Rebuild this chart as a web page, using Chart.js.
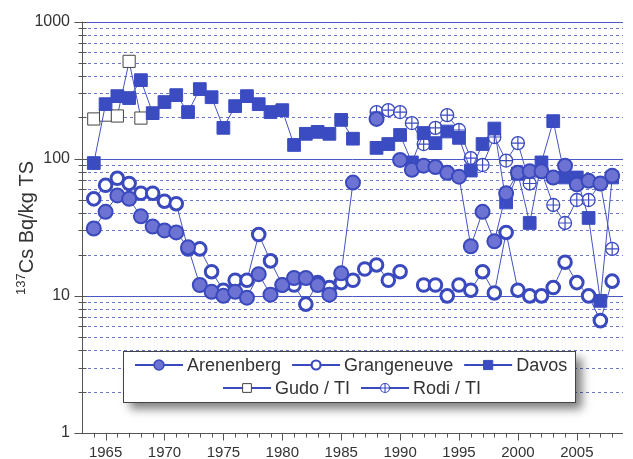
<!DOCTYPE html>
<html>
<head>
<meta charset="utf-8">
<title>137Cs Bq/kg TS</title>
<script src="https://cdn.jsdelivr.net/npm/chart.js@4.4.1/dist/chart.umd.min.js"></script>
<style>
  html, body { margin: 0; padding: 0; background: #fff; }
  #wrap { position: relative; width: 633px; height: 459px; }
</style>
</head>
<body>
<div id="wrap"><canvas id="csChart"></canvas></div>
<script>
// ---- data (Bq/kg TS) ----
const years = [1964, 1965, 1966, 1967, 1968, 1969, 1970, 1971, 1972, 1973,
               1974, 1975, 1976, 1977, 1978, 1979, 1980, 1981, 1982, 1983,
               1984, 1985, 1986, 1987, 1988, 1989, 1990, 1991, 1992, 1993,
               1994, 1995, 1996, 1997, 1998, 1999, 2000, 2001, 2002, 2003,
               2004, 2005, 2006, 2007, 2008];

const arenenberg = [31, 41, 54, 51, 38, 32, 30, 29, 22.6, 12,
                    10.7, 10, 10.7, 9.7, 14.4, 10.2, 12, 13.5, 13.5, 12,
                    10.2, 14.6, 67, null, 195, null, 98, 83, 89, 87,
                    79, 74, 23, 41, 25, 56, 79, 81, 81, 73,
                    89, 65, 69, 66, 75];

const grangeneuve = [51, 64, 72, 66, 56, 56, 49, 47, 22, 22,
                     15, 11, 13, 13, 28, 18, 12, 12, 8.7, 12.5,
                     11.5, 12.5, 13, 15.7, 16.8, 13, 15, null, 12, 12,
                     10, 12, 11, 15, 10.5, 29, 11, 10, 10, 11.5,
                     17.6, 12.5, 10, 6.6, 12.8];

const davos = [93, 250, 286, 277, 374, 215, 259, 291, 219, 322,
               281, 168, 242, 286, 250, 219, 226, 126, 152, 157,
               152, 192, 140, null, 120, 128, 149, 94, 154, 130,
               158, 142, 82, 128, 166, 48, 78, 34, 94, 188,
               73, 73, 37, 9.2, 73];

const gudoYears = [1964, 1965, 1966, 1967, 1968];
const gudo = [195, 208, 205, 513, 198];

const rodiYears = [1988, 1989, 1990, 1991, 1992, 1993, 1994, 1995, 1996, 1997,
                   1998, 1999, 2000, 2001, 2002, 2003, 2004, 2005, 2006, 2007, 2008];
const rodi = [219, 226, 219, 182, 128, 168, 208, 162, 101, 90,
              144, 97, 130, 66, 80, 46, 34, 50, 50, 66, 22];

const xTicks = [1965, 1970, 1975, 1980, 1985, 1990, 1995, 2000, 2005];
const yTicks = [1, 10, 100, 1000];

// ---- styling ----
const BLUE = '#3a49bd';
const LINE = '#4453c0';
const FILL = '#6c73d3';
const SQUARE = '#3b4cc2';
const TEXT = '#333';
const FONT = "'Liberation Sans', Arial, sans-serif";

const pairs = (xs, ys) => xs.map((x, i) => ({ x: x, y: ys[i] }));

const series = [
  { label: 'Arenenberg', data: pairs(years, arenenberg), order: 0,
    pointStyle: 'circle', pointRadius: 7, pointBackgroundColor: FILL,
    pointBorderColor: BLUE, pointBorderWidth: 2 },
  { label: 'Grangeneuve', data: pairs(years, grangeneuve), order: 1,
    pointStyle: 'circle', pointRadius: 6.3, pointBackgroundColor: '#fff',
    pointBorderColor: BLUE, pointBorderWidth: 3 },
  { label: 'Davos', data: pairs(years, davos), order: 2,
    pointStyle: 'rect', pointRadius: 9, pointBackgroundColor: SQUARE,
    pointBorderColor: SQUARE, pointBorderWidth: 1 },
  { label: 'Gudo / TI', data: pairs(gudoYears, gudo), order: 4,
    pointStyle: 'rect', pointRadius: 8.6, pointBackgroundColor: '#fff',
    pointBorderColor: '#444', pointBorderWidth: 1 },
  { label: 'Rodi / TI', data: pairs(rodiYears, rodi), order: 3,
    pointStyle: 'circle', pointRadius: 6.5, pointBackgroundColor: '#fff',
    pointBorderColor: BLUE, pointBorderWidth: 1.3 }
];

series.forEach(s => {
  s.borderColor = LINE;
  s.borderWidth = 1;
  s.spanGaps = false;
  s.fill = false;
  s.tension = 0;
});

function drawCross(ctx, x, y, r) {
  ctx.beginPath();
  ctx.moveTo(x - r, y); ctx.lineTo(x + r, y);
  ctx.moveTo(x, y - r); ctx.lineTo(x, y + r);
  ctx.stroke();
}

// log grid, axis lines, tick marks, axis title and legend box
const axesPlugin = {
  id: 'axesPlugin',
  beforeDatasetsDraw(chart) {
    const { ctx, chartArea: a, scales: { x, y } } = chart;
    ctx.save();
    ctx.lineWidth = 1;

    // dashed minor lines
    ctx.strokeStyle = '#6d79c9';
    ctx.setLineDash([3, 3]);
    for (let d = 1; d <= 100; d *= 10) {
      for (let m = 2; m <= 9; m++) {
        const py = Math.round(y.getPixelForValue(m * d)) + 0.5;
        ctx.beginPath();
        ctx.moveTo(a.left, py);
        ctx.lineTo(a.right, py);
        ctx.stroke();
      }
    }
    // solid decade lines
    ctx.setLineDash([]);
    ctx.strokeStyle = '#4a59c3';
    [10, 100, 1000].forEach(v => {
      const py = Math.round(y.getPixelForValue(v)) + 0.5;
      ctx.beginPath();
      ctx.moveTo(a.left, py);
      ctx.lineTo(a.right, py);
      ctx.stroke();
    });

    // axes
    ctx.strokeStyle = '#555';
    const ax = Math.round(a.left) + 0.5;
    const ay = Math.round(a.bottom) + 0.5;
    ctx.beginPath();
    ctx.moveTo(ax, a.top);
    ctx.lineTo(ax, ay);
    ctx.moveTo(a.left - 2, ay);
    ctx.lineTo(a.right, ay);
    ctx.stroke();

    // y ticks (cross the axis)
    ctx.beginPath();
    for (let d = 1; d <= 1000; d *= 10) {
      for (let m = 1; m <= 9; m++) {
        const v = m * d;
        if (v > 1000) break;
        const py = Math.round(y.getPixelForValue(v)) + 0.5;
        const major = m === 1;
        ctx.moveTo(ax - (major ? 8 : 4), py);
        ctx.lineTo(ax + 4, py);
      }
    }
    // x ticks every year, longer every 5
    for (let yr = 1964; yr <= 2008; yr++) {
      const px = Math.round(x.getPixelForValue(yr)) + 0.5;
      ctx.moveTo(px, ay);
      ctx.lineTo(px, ay + (yr % 5 === 0 ? 7 : 4));
    }
    ctx.stroke();
    ctx.restore();
  },

  // crosses inside the Rodi circles
  afterDatasetDraw(chart, args) {
    if (chart.data.datasets[args.index].label !== 'Rodi / TI') return;
    const ctx = chart.ctx;
    ctx.save();
    ctx.strokeStyle = BLUE;
    ctx.lineWidth = 1.2;
    args.meta.data.forEach(pt => {
      if (!pt.skip) drawCross(ctx, pt.x, pt.y, 6.5);
    });
    ctx.restore();
  },

  afterDatasetsDraw(chart) {
    const { ctx } = chart;
    ctx.save();

    // y axis title with superscript
    ctx.fillStyle = TEXT;
    ctx.translate(20, 228);
    ctx.rotate(-Math.PI / 2);
    ctx.textBaseline = 'alphabetic';
    ctx.font = '13px ' + FONT;
    const w1 = ctx.measureText('137').width;
    ctx.font = '20px ' + FONT;
    const w2 = ctx.measureText('Cs Bq/kg TS').width;
    const sx = -(w1 + w2) / 2;
    ctx.font = '13px ' + FONT;
    ctx.fillText('137', sx, 5);
    ctx.font = '20px ' + FONT;
    ctx.fillText('Cs Bq/kg TS', sx + w1, 13);
    ctx.restore();

    // legend box
    const bx = 123, by = 351, bw = 452, bh = 51;
    ctx.save();
    ctx.shadowColor = 'rgba(0,0,0,0.5)';
    ctx.shadowBlur = 9;
    ctx.shadowOffsetX = 7;
    ctx.shadowOffsetY = 7;
    ctx.fillStyle = '#fff';
    ctx.fillRect(bx, by, bw, bh);
    ctx.restore();
    ctx.save();
    ctx.strokeStyle = '#444';
    ctx.lineWidth = 1;
    ctx.strokeRect(bx + 0.5, by + 0.5, bw, bh);

    ctx.font = '18px ' + FONT;
    ctx.textBaseline = 'middle';
    const rows = [
      { x: 135, y: 365, items: [0, 1, 2] },
      { x: 223, y: 388, items: [3, 4] }
    ];
    const legR = [5, 4.5, 6.5, 6.2, 4.5];
    const legB = [1.5, 2.2, 1, 1, 1.1];
    rows.forEach(row => {
      let cx = row.x;
      row.items.forEach(i => {
        const s = series[i];
        ctx.strokeStyle = BLUE;
        ctx.lineWidth = 2;
        ctx.beginPath();
        ctx.moveTo(cx, row.y);
        ctx.lineTo(cx + 48, row.y);
        ctx.stroke();
        const mx = cx + 24;
        ctx.fillStyle = s.pointBackgroundColor;
        ctx.strokeStyle = s.pointBorderColor;
        ctx.lineWidth = legB[i];
        Chart.helpers.drawPoint(ctx, { pointStyle: s.pointStyle, radius: legR[i], rotation: 0, borderWidth: legB[i] }, mx, row.y);
        if (i === 4) drawCross(ctx, mx, row.y, legR[i]);
        ctx.fillStyle = TEXT;
        ctx.fillText(s.label, cx + 52, row.y + 1);
        cx += 52 + ctx.measureText(s.label).width + 11;
      });
    });
    ctx.restore();
  }
};

new Chart(document.getElementById('csChart'), {
  type: 'line',
  data: { datasets: series },
  options: {
    responsive: true,
    maintainAspectRatio: false,
    animation: false,
    events: [],
    layout: { padding: { top: 20, right: 0, bottom: 0, left: 0 } },
    plugins: { legend: { display: false }, tooltip: { enabled: false } },
    scales: {
      x: {
        type: 'linear',
        min: 1963,
        max: 2008.92,
        grid: { display: false, drawTicks: false },
        border: { display: false },
        afterBuildTicks: s => { s.ticks = xTicks.map(v => ({ value: v })); },
        afterFit: s => { s.height = 26; },
        ticks: {
          padding: 11,
          color: TEXT,
          font: { family: FONT, size: 15 },
          maxRotation: 0,
          autoSkip: false,
          callback: v => String(v)
        }
      },
      y: {
        type: 'logarithmic',
        min: 1,
        max: 1000,
        grid: { display: false, drawTicks: false },
        border: { display: false },
        afterBuildTicks: s => { s.ticks = yTicks.map(v => ({ value: v })); },
        afterFit: s => { s.width = 82; },
        ticks: {
          padding: 12,
          color: TEXT,
          font: { family: FONT, size: 16 },
          autoSkip: false,
          callback: v => String(v)
        }
      }
    }
  },
  plugins: [axesPlugin]
});
</script>
</body>
</html>
